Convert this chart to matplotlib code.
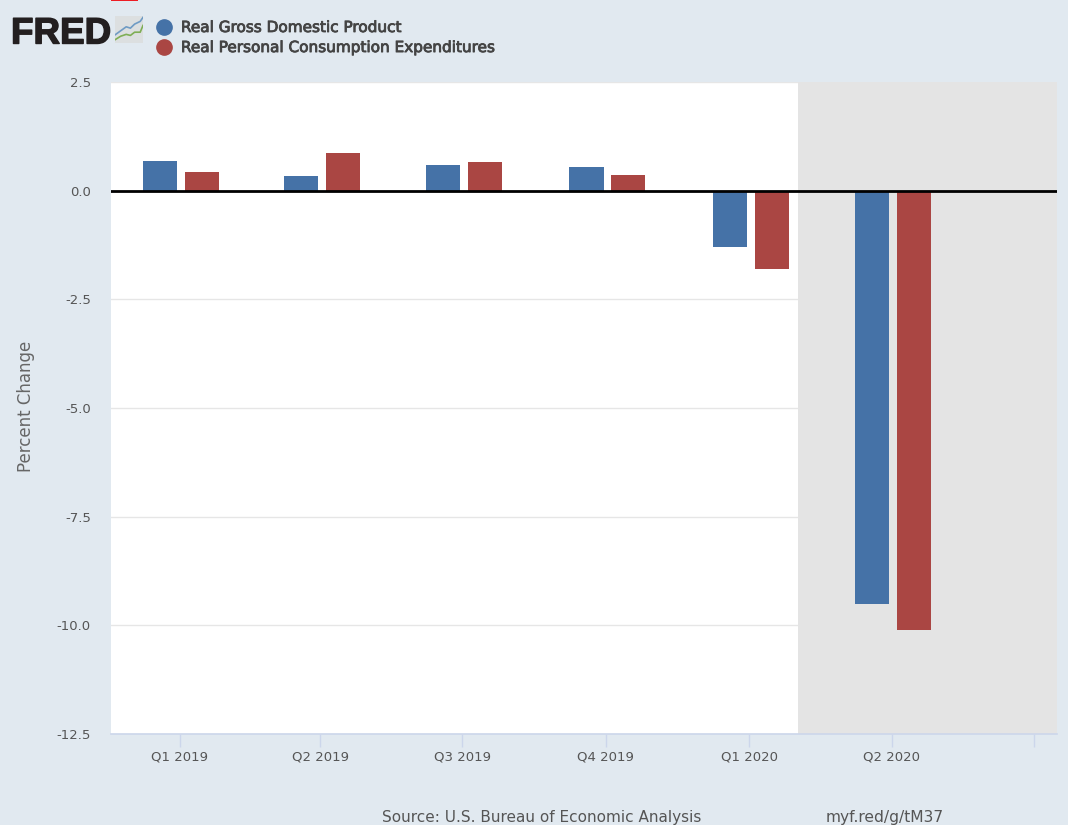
import datetime as dt

import matplotlib
matplotlib.use("Agg")
import matplotlib.dates as mdates
import matplotlib.patheffects as pe
import matplotlib.pyplot as plt
from matplotlib.lines import Line2D
from matplotlib.patches import Rectangle

# data
quarters = ["2019-01-01", "2019-04-01", "2019-07-01", "2019-10-01", "2020-01-01", "2020-04-01"]
quarter_labels = ["Q1 2019", "Q2 2019", "Q3 2019", "Q4 2019", "Q1 2020", "Q2 2020"]
gdp = [0.69, 0.33, 0.60, 0.55, -1.29, -9.52]
pce = [0.43, 0.87, 0.65, 0.37, -1.80, -10.10]
y_ticks = [2.5, 0.0, -2.5, -5.0, -7.5, -10.0, -12.5]
recession_start = "2020-02-01"
axis_start = "2018-11-18"
axis_end = "2020-07-16"
last_tick = "2020-07-01"

BG = "#e1e9f0"
BLUE = "#4572a7"
RED = "#aa4643"
GRID = "#e6e6e6"
AXIS = "#ccd6eb"
TEXT = "#555555"
W, H = 1068, 825

plt.rcParams["font.family"] = "DejaVu Sans"


def day(s):
    return mdates.date2num(dt.date.fromisoformat(s))


fig = plt.figure(figsize=(W / 100, H / 100), dpi=100, facecolor=BG)
ax = fig.add_axes([111 / W, 1 - 734 / H, (1057 - 111) / W, (734 - 82) / H], facecolor="white")

x = [day(q) for q in quarters]
ax.axvspan(day(recession_start), day(axis_end), color="#e4e4e4", lw=0, zorder=1.5)
ax.bar([v - 12.4 for v in x], gdp, width=21.8, color=BLUE, zorder=3)
ax.bar([v + 14.4 for v in x], pce, width=21.8, color=RED, zorder=3)
ax.axhline(0, color="black", lw=2, zorder=4)

ax.set_xlim(day(axis_start), day(axis_end))
ax.set_ylim(-12.5, 2.5)
ax.set_yticks(y_ticks, [f"{v:.1f}" for v in y_ticks])
ax.set_xticks(x + [day(last_tick)], quarter_labels + [""])
ax.grid(axis="y", color=GRID, lw=1, zorder=1)
ax.set_axisbelow(True)
for side in ("top", "right", "left"):
    ax.spines[side].set_visible(False)
ax.spines["bottom"].set_color(AXIS)
ax.spines["bottom"].set_linewidth(1.2)
ax.tick_params(axis="y", length=0, pad=14.5, labelsize=9.5, labelcolor=TEXT)
ax.tick_params(axis="x", length=9.5, width=1, color=AXIS, pad=2.7, labelsize=9.5, labelcolor=TEXT)
ax.set_ylabel("Percent Change", fontsize=12, color="#666666")
ax.yaxis.set_label_coords(-76 / 946, 0.503)

# legend
handles = [
    Line2D([], [], marker="o", ls="", ms=11, color=BLUE),
    Line2D([], [], marker="o", ls="", ms=11, color=RED),
]
leg = fig.legend(
    handles,
    ["Real Gross Domestic Product", "Real Personal Consumption Expenditures"],
    loc="upper left",
    bbox_to_anchor=(154.5 / W, 1 - 20 / H),
    frameon=False,
    labelcolor="#444444",
    prop={"size": 11},
    labelspacing=0.33,
    handletextpad=0.48,
    borderpad=0,
    borderaxespad=0,
    handlelength=1.25,
)
for t in leg.get_texts():
    t.set_path_effects([pe.withStroke(linewidth=0.6, foreground="#444444")])

# FRED logo
fig.text(
    11 / W, 1 - 43.5 / H, "FRED", fontsize=26.5, fontweight="bold", family="Liberation Sans",
    color="#231f20", ha="left", va="baseline",
    path_effects=[pe.withStroke(linewidth=1, foreground="#231f20")],
)
fig.patches.append(Rectangle((111 / W, 1 - 1.2 / H), 27 / W, 1.2 / H, transform=fig.transFigure,
                             facecolor="#ed1c24", lw=0))

# small chart icon next to the logo
icon = fig.add_axes([115 / W, 1 - 43 / H, 28 / W, 27 / H], facecolor="#dcdfe0")
icon.plot([0, 2, 4, 5.5, 7, 9, 10], [3, 4.5, 6, 5.5, 7, 8, 9.5], color="#6f9bc4", lw=1.2)
icon.plot([0, 2, 4, 5.5, 7, 9, 10], [1.2, 2.5, 3.2, 2.8, 4, 4, 6.5], color="#7fae55", lw=1.2)
icon.set_xlim(0, 10)
icon.set_ylim(0, 10)
icon.set_xticks([])
icon.set_yticks([])
for s in icon.spines.values():
    s.set_visible(False)

# footer
fig.text(382 / W, 1 - 822 / H, "Source: U.S. Bureau of Economic Analysis", fontsize=11, color=TEXT, va="baseline")
fig.text(826 / W, 1 - 822 / H, "myf.red/g/tM37", fontsize=11.2, color=TEXT, va="baseline")

fig.savefig("out.png", dpi=100, facecolor=BG)
